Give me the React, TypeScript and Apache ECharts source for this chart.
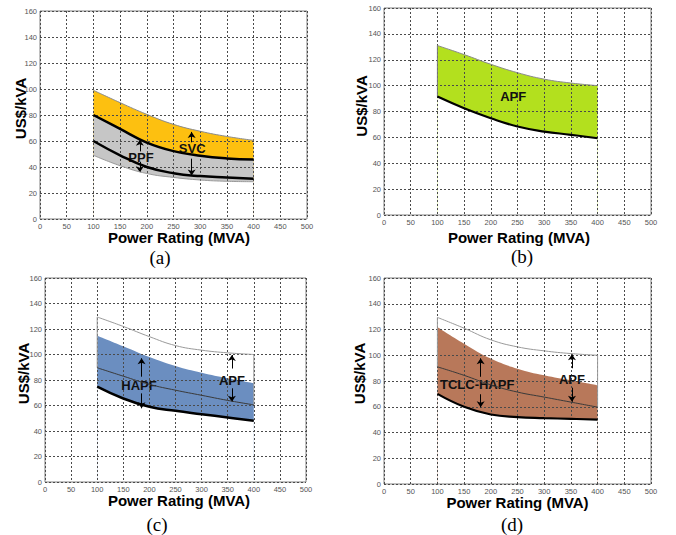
import React, { useEffect, useRef } from "react";
import * as echarts from "echarts";

// Power rating (MVA) sample points
const xValues = [100, 150, 200, 250, 300, 350, 400];
const xTicksMin = 0, xTicksMax = 500, xTickStep = 50;
const yTicksMin = 0, yTicksMax = 160, yTickStep = 20;

// (a) SVC / PPF
const svcTop = [99, 89.5, 80.5, 72.8, 67.5, 63.5, 60.5];
const ppfUpper = [80, 69.3, 58.8, 52.2, 48.6, 46.6, 45.8];
const ppfLower = [60, 49, 40, 35.2, 33, 32, 31];
const ppfBottom = [49, 41, 35, 32, 30, 29, 28.7];

// (b) APF
const apfTopB = [131, 124, 116.5, 110, 105, 102, 100];
const apfBottomB = [91.5, 82.5, 74.8, 68.4, 64.5, 62, 59.3];

// (c) HAPF vs APF
const apfTopC = [129.4, 122, 114, 107, 103.4, 101.3, 100];
const hapfTop = [114.8, 106.5, 98, 91, 85.7, 81.3, 77.4];
const apfBottomC = [89.6, 83, 76.6, 72, 68, 64, 60.5];
const hapfBottom = [74.8, 65.5, 59, 55.8, 53.2, 50.6, 48];

// (d) TCLC-HAPF vs APF
const apfTopD = [129.4, 121, 112, 106.5, 103.4, 101.3, 100];
const tclcTop = [122, 109, 97.4, 89.6, 84.4, 80.5, 76.6];
const apfBottomD = [91, 84.4, 77, 71.4, 67.5, 63.6, 59.7];
const tclcBottom = [70, 60, 54, 52, 51.2, 50.6, 50];

// annotation labels [x, y, text]
const labelsA: [number, number, string][] = [[189, 47.6, "PPF"], [285, 54, "SVC"]];
const labelsB: [number, number, string][] = [[242, 91.5, "APF"]];
const labelsC: [number, number, string][] = [[180, 76, "HAPF"], [358, 80, "APF"]];
const labelsD: [number, number, string][] = [[174.5, 77, "TCLC-HAPF"], [352, 80.8, "APF"]];

// arrows [x, tailY, headY]
const arrowsA: [number, number, number][] = [[187, 52, 61], [187, 44, 36], [284, 59, 67], [284, 46.4, 33.5]];
const arrowsC: [number, number, number][] = [[185, 82.6, 97], [185, 69.5, 57.8], [358, 89, 99.6], [358, 73.5, 63]];
const arrowsD: [number, number, number][] = [[181, 83.3, 97.6], [181, 69.7, 59.6], [352, 89.9, 100.7], [352, 74.8, 63.9]];

const SMOOTH = 0.45;
const FONT = "Liberation Sans, Arial, sans-serif";

const pts = (ys: number[]) => xValues.map((x, i) => [x, ys[i]]);
const edge = (i: number, top: number[], bot: number[]) => [
  [xValues[i], top[i]],
  [xValues[i], bot[i]],
];

// filled area from the curve down towards the axis; later ones paint over earlier ones
function areaSeries(idx: number, ys: number[], color: string) {
  return {
    type: "line",
    xAxisIndex: idx,
    yAxisIndex: idx,
    data: pts(ys),
    symbol: "none",
    smooth: SMOOTH,
    silent: true,
    lineStyle: { width: 0, opacity: 0 },
    areaStyle: { color, opacity: 1, origin: 1.5 },
    z: 2,
  };
}

function lineSeries(idx: number, data: number[][], color: string, width: number, smooth = true) {
  return {
    type: "line",
    xAxisIndex: idx,
    yAxisIndex: idx,
    data,
    symbol: "none",
    smooth: smooth ? SMOOTH : false,
    silent: true,
    lineStyle: { color, width },
    z: 10,
  };
}

function annotSeries(idx: number, labels: [number, number, string][], arrows: [number, number, number][]) {
  return {
    type: "line",
    xAxisIndex: idx,
    yAxisIndex: idx,
    data: [],
    silent: true,
    z: 12,
    markPoint: {
      symbol: "circle",
      symbolSize: 1,
      itemStyle: { color: "rgba(0,0,0,0)" },
      label: {
        show: true,
        position: "inside",
        formatter: (p: any) => p.name,
        fontFamily: FONT,
        fontWeight: "bold",
        fontSize: 13,
        color: "#111",
      },
      data: labels.map(([x, y, t]) => ({ coord: [x, y], name: t })),
    },
    markLine: {
      symbol: ["none", "arrow"],
      symbolSize: 6,
      silent: true,
      label: { show: false },
      lineStyle: { color: "#000", width: 1, type: "solid" },
      data: arrows.map(([x, a, b]) => [{ coord: [x, a] }, { coord: [x, b] }]),
    },
  };
}

const grids = [
  { left: 40, top: 11, width: 267, height: 208 },
  { left: 384, top: 8, width: 267, height: 207 },
  { left: 45, top: 278, width: 261, height: 204 },
  { left: 384, top: 278, width: 267, height: 206 },
];

const yNames = [[20.5, 108.5], [361, 106], [23, 373.5], [359, 373.5]];
const xNames = [[179, 237.5], [519, 237], [179, 500.5], [517.5, 502.5]];
const captions: [number, number, string][] = [[160, 257.5, "(a)"], [522, 256, "(b)"], [157, 524, "(c)"], [512, 524, "(d)"]];

export default function App() {
  const ref = useRef<HTMLDivElement>(null);
  useEffect(() => {
    document.body.style.margin = "0";
    if (!ref.current) return;
    const chart = echarts.init(ref.current, undefined, { renderer: "svg" });

    const series: any[] = [
      // (a)
      areaSeries(0, svcTop, "#fdc010"),
      areaSeries(0, ppfUpper, "#c6c6c6"),
      areaSeries(0, ppfBottom, "#ffffff"),
      lineSeries(0, pts(svcTop), "#8a8a8a", 1),
      lineSeries(0, pts(ppfBottom), "#9a9a9a", 1),
      lineSeries(0, pts(ppfUpper), "#000", 2.5),
      lineSeries(0, pts(ppfLower), "#000", 2.5),
      annotSeries(0, labelsA, arrowsA),
      // (b)
      areaSeries(1, apfTopB, "#b3e01e"),
      areaSeries(1, apfBottomB, "#ffffff"),
      lineSeries(1, pts(apfTopB), "#8a8a8a", 1),
      lineSeries(1, edge(0, apfTopB, apfBottomB), "#777", 1, false),
      lineSeries(1, pts(apfBottomB), "#000", 2.2),
      annotSeries(1, labelsB, []),
      // (c)
      areaSeries(2, hapfTop, "#6b8ec0"),
      areaSeries(2, hapfBottom, "#ffffff"),
      lineSeries(2, pts(apfTopC), "#9a9a9a", 1),
      lineSeries(2, edge(0, apfTopC, apfBottomC), "#9a9a9a", 1, false),
      lineSeries(2, edge(6, apfTopC, apfBottomC), "#9a9a9a", 1, false),
      lineSeries(2, pts(apfBottomC), "#3a3a3a", 1),
      lineSeries(2, pts(hapfBottom), "#000", 2.5),
      annotSeries(2, labelsC, arrowsC),
      // (d)
      areaSeries(3, tclcTop, "#b8785a"),
      areaSeries(3, tclcBottom, "#ffffff"),
      lineSeries(3, pts(apfTopD), "#9a9a9a", 1),
      lineSeries(3, edge(0, apfTopD, apfBottomD), "#9a9a9a", 1, false),
      lineSeries(3, edge(6, apfTopD, apfBottomD), "#9a9a9a", 1, false),
      lineSeries(3, pts(apfBottomD), "#3a3a3a", 1),
      lineSeries(3, pts(tclcBottom), "#000", 2.2),
      annotSeries(3, labelsD, arrowsD),
    ];

    const axisCommon = {
      type: "value",
      z: 5,
      axisLine: { show: false },
      axisTick: { show: false },
      splitLine: { show: true, lineStyle: { type: [2, 2], color: "#4a4a4a", width: 1 } },
      axisLabel: { fontSize: 7.5, color: "#555", margin: 3, fontFamily: FONT },
    };

    const graphic: any[] = [];
    yNames.forEach(([x, y]) =>
      graphic.push({
        type: "text",
        x,
        y,
        rotation: Math.PI / 2,
        style: {
          text: "US$/kVA",
          fontFamily: FONT,
          fontWeight: "bold",
          fontSize: 15,
          fill: "#000",
          textAlign: "center",
          textVerticalAlign: "middle",
        },
      })
    );
    xNames.forEach(([x, y]) =>
      graphic.push({
        type: "text",
        x,
        y,
        style: {
          text: "Power Rating (MVA)",
          fontFamily: FONT,
          fontWeight: "bold",
          fontSize: 15,
          fill: "#000",
          textAlign: "center",
          textVerticalAlign: "middle",
        },
      })
    );
    captions.forEach(([x, y, t]) =>
      graphic.push({
        type: "text",
        x,
        y,
        style: {
          text: t,
          fontFamily: "Liberation Serif, Times New Roman, serif",
          fontSize: 19,
          fill: "#000",
          textAlign: "center",
          textVerticalAlign: "middle",
        },
      })
    );

    chart.setOption({
      animation: false,
      backgroundColor: "#fff",
      grid: grids.map((g) => ({ ...g, show: true, borderColor: "#808080", borderWidth: 1, backgroundColor: "transparent" })),
      xAxis: grids.map((_, i) => ({ ...axisCommon, gridIndex: i, min: xTicksMin, max: xTicksMax, interval: xTickStep })),
      yAxis: grids.map((_, i) => ({ ...axisCommon, gridIndex: i, min: yTicksMin, max: yTicksMax, interval: yTickStep })),
      series,
      graphic,
    });
    return () => chart.dispose();
  }, []);
  return <div ref={ref} style={{ width: 676, height: 535 }} />;
}
